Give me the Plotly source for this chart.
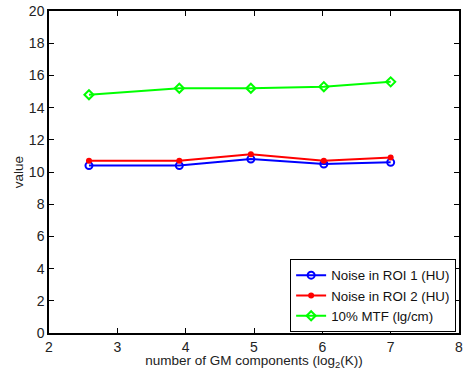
import plotly.graph_objects as go

x_vals = [2.585, 3.907, 4.954, 6.022, 7.0]
roi1 = [10.4, 10.4, 10.8, 10.5, 10.6]
roi2 = [10.7, 10.7, 11.1, 10.7, 10.9]
mtf = [14.8, 15.2, 15.2, 15.3, 15.6]
names = ["Noise in ROI 1 (HU)", "Noise in ROI 2 (HU)", "10% MTF (lg/cm)"]

fig = go.Figure()
fig.add_trace(go.Scatter(x=x_vals, y=roi1, name=names[0], mode="lines+markers",
                         line=dict(color="#0000ff", width=2),
                         marker=dict(symbol="circle-open", size=7, color="#0000ff", line=dict(width=2))))
fig.add_trace(go.Scatter(x=x_vals, y=roi2, name=names[1], mode="lines+markers",
                         line=dict(color="#ff0000", width=2),
                         marker=dict(symbol="circle", size=6, color="#ff0000")))
fig.add_trace(go.Scatter(x=x_vals, y=mtf, name=names[2], mode="lines+markers",
                         line=dict(color="#00ff00", width=2),
                         marker=dict(symbol="diamond-open", size=7, color="#00ff00", line=dict(width=2))))

axis_common = dict(showline=True, linecolor="black", linewidth=1.5, mirror="ticks",
                   ticks="inside", ticklen=5, tickcolor="black", showgrid=False, zeroline=False,
                   automargin=False, tickfont=dict(size=14, color="#222"))
fig.update_layout(
    width=464, height=370,
    margin=dict(l=49, r=5, t=11, b=37),
    paper_bgcolor="white", plot_bgcolor="white",
    font=dict(family="Liberation Sans, Arial, sans-serif", size=14, color="#222"),
    xaxis=dict(range=[2, 8], dtick=1, ticklabelstandoff=0,
               title=dict(text="number of GM components (log<sub>2</sub>(K))", standoff=3, font=dict(size=13.5)), **axis_common),
    yaxis=dict(range=[0, 20], dtick=2,
               title=dict(text="value", standoff=2, font=dict(size=13.5)), **axis_common),
    legend=dict(x=0.993, y=0.003, xanchor="right", yanchor="bottom", bordercolor="black", borderwidth=1,
                bgcolor="white", font=dict(size=13.3, color="#111"), tracegroupgap=0, itemwidth=30),
    showlegend=True,
)
fig.write_html("out.html")
